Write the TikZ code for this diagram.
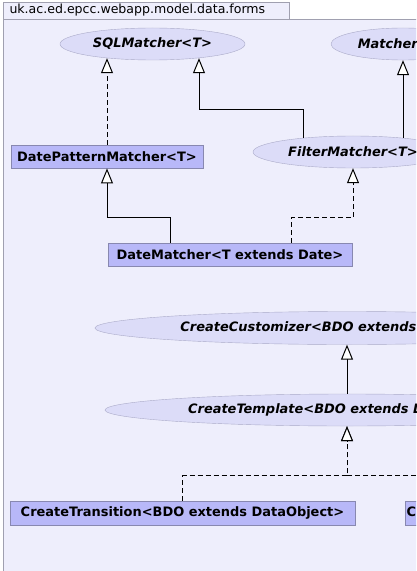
\documentclass[tikz,border=0pt]{standalone}
\usepackage{fontspec}
\setmainfont{DejaVu Sans}
\usepackage{xcolor}
\usetikzlibrary{shapes.geometric,arrows.meta,calc}
\definecolor{pkgbg}{RGB}{238,238,252}
\definecolor{pkgline}{RGB}{160,160,176}
\definecolor{clsfill}{RGB}{184,184,248}
\definecolor{clsline}{RGB}{136,136,176}
\definecolor{ifcfill}{RGB}{220,220,248}
\definecolor{ifcline}{RGB}{170,170,200}

\begin{document}
\begin{tikzpicture}[x=1bp,y=-1bp,
    font=\fontsize{13}{15}\selectfont\bfseries,
    cls/.style={rectangle,draw=clsline,fill=clsfill,inner sep=0pt,minimum height=23.5bp},
    ifc/.style={ellipse,draw=ifcline,fill=ifcfill,inner sep=0pt,minimum height=32bp,font=\fontsize{13}{15}\selectfont\bfseries\itshape},
    inh/.style={-{Triangle[fill=white,length=15bp,width=12bp]},line width=1bp},
    impl/.style={inh,dash pattern=on 5bp off 3bp}]
\clip (0,0) rectangle (416,571);
\fill[white] (0,0) rectangle (416,571);
\draw[pkgline,fill=pkgbg] (3,19) rectangle (440,600);
\draw[pkgline,fill=pkgbg] (3,2) rectangle (289,19);
\node[anchor=west,font=\fontsize{12.6}{14}\selectfont] (pkg) at (6,10.5) {uk.ac.ed.epcc.webapp.model.data.forms};
\node[ifc,minimum width=185bp] (sql) at (152.5,44) {SQLMatcher<T>};
\node[ifc,minimum width=144bp] (mat) at (403,44) {Matcher<T>};
\node[cls,minimum width=192bp] (dpm) at (107,156.5) {DatePatternMatcher<T>};
\node[ifc,minimum width=200bp] (fm) at (353,152) {FilterMatcher<T>};
\node[cls,minimum width=244bp] (dm) at (230,254.75) {DateMatcher<T extends Date>};
\node[ifc,minimum width=504bp,minimum height=33bp] (cc) at (347,328) {CreateCustomizer<BDO extends DataObject>};
\node[ifc,minimum width=484bp] (ct) at (347,410) {CreateTemplate<BDO extends DataObject>};
\node[cls,minimum width=345bp,minimum height=24.5bp] (ctr) at (182.5,513.3) {CreateTransition<BDO extends DataObject>};
\node[cls,minimum width=260bp,minimum height=24.5bp,anchor=west] (cre) at (405,513.3) {Creator<BDO extends DataObject>};
\draw[impl] (dpm.north) -- ($(dpm.north |- sql.south)+(0,-2)$);
\draw[inh] ($(fm.north)+(-50,2)$) -- ++(0,-28) -| ($(sql.south)+(46.5,-2)$);
\draw[inh] ($(fm.north)+(50,2)$) -- (mat.south);
\draw[inh] ($(dm.north)+(-60,0)$) -- ++(0,-25) -| (dpm.south);
\draw[impl] ($(dm.north)+(61,0)$) -- ++(0,-25) -| (fm.south);
\draw[inh] (ct.north) -- (cc.south);
\draw[impl] (ctr.north) -- ++(0,-25) -| (ct.south);
\draw[impl] (cre.north) -- ++(0,-25) -| (ct.south);
\end{tikzpicture}
\end{document}
